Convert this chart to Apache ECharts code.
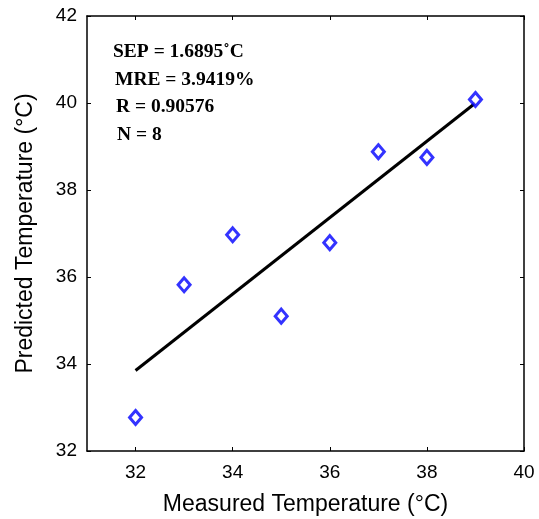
<!DOCTYPE html>
<html><head><meta charset="utf-8">
<script src="https://cdn.jsdelivr.net/npm/echarts@6/dist/echarts.min.js"></script>
<style>html,body{margin:0;padding:0;background:#fff}#c{width:539px;height:519px}</style>
</head><body><div id="c"></div>
<script>
const measured = [32, 33, 34, 35, 36, 37, 38, 39];
const predicted = [32.77, 35.82, 36.97, 35.10, 36.79, 38.88, 38.75, 40.08];
const fitX = [32, 39];
const fitY = [33.85, 40.0];
const xTicks = [32, 34, 36, 38, 40];
const yTicks = [32, 34, 36, 38, 40, 42];
const statLines = ['SEP = 1.6895˚C', 'MRE = 3.9419%', 'R = 0.90576', 'N = 8'];

const chart = echarts.init(document.getElementById('c'));
const font = '"Liberation Sans", Arial, sans-serif';
const baseAxis = {
  type: 'value',
  axisLine: { show: true, onZero: false, lineStyle: { color: '#000', width: 1.5 } },
  axisTick: { show: true, inside: true, length: 4, lineStyle: { color: '#000' } },
  splitLine: { show: false },
  axisLabel: { color: '#000', fontSize: 19, fontFamily: font }
};
chart.setOption({
  animation: false,
  backgroundColor: '#fff',
  grid: { left: 87, right: 15, top: 16, bottom: 68, containLabel: false, outerBoundsMode: 'none' },
  xAxis: [
    Object.assign({}, baseAxis, { min: 31, max: 40, position: 'bottom',
      axisTick: Object.assign({}, baseAxis.axisTick, { customValues: xTicks }),
      axisLabel: Object.assign({}, baseAxis.axisLabel, { customValues: xTicks, margin: 12 }),
      name: 'Measured Temperature (°C)', nameLocation: 'middle', nameGap: 42,
      nameTextStyle: { color: '#000', fontSize: 23, fontFamily: font } }),
    Object.assign({}, baseAxis, { min: 31, max: 40, position: 'top',
      axisTick: Object.assign({}, baseAxis.axisTick, { customValues: xTicks }),
      axisLabel: { show: false } })
  ],
  yAxis: [
    Object.assign({}, baseAxis, { min: 32, max: 42, position: 'left',
      axisTick: Object.assign({}, baseAxis.axisTick, { customValues: yTicks }),
      axisLabel: Object.assign({}, baseAxis.axisLabel, { customValues: yTicks, margin: 10 }),
      name: 'Predicted Temperature (°C)', nameLocation: 'middle', nameGap: 50,
      nameTextStyle: { color: '#000', fontSize: 23, fontFamily: font } }),
    Object.assign({}, baseAxis, { min: 32, max: 42, position: 'right',
      axisTick: Object.assign({}, baseAxis.axisTick, { customValues: yTicks }),
      axisLabel: { show: false } })
  ],
  series: [
    { type: 'line', data: fitX.map((x, i) => [x, fitY[i]]), symbol: 'none',
      lineStyle: { color: '#000', width: 3 }, z: 2 },
    { type: 'scatter', data: measured.map((x, i) => [x, predicted[i]]),
      symbol: 'diamond', symbolSize: [12, 14],
      itemStyle: { color: '#fff', borderColor: '#0000ff', borderWidth: 3 }, z: 3 }
  ],
  graphic: statLines.map((t, i) => ({
    type: 'text', left: [113, 115, 116, 117][i], top: 42 + i * 27.5,
    style: { text: t, font: 'bold 19.5px "Liberation Serif", "Times New Roman", serif', fill: '#000' }
  }))
});
</script></body></html>
